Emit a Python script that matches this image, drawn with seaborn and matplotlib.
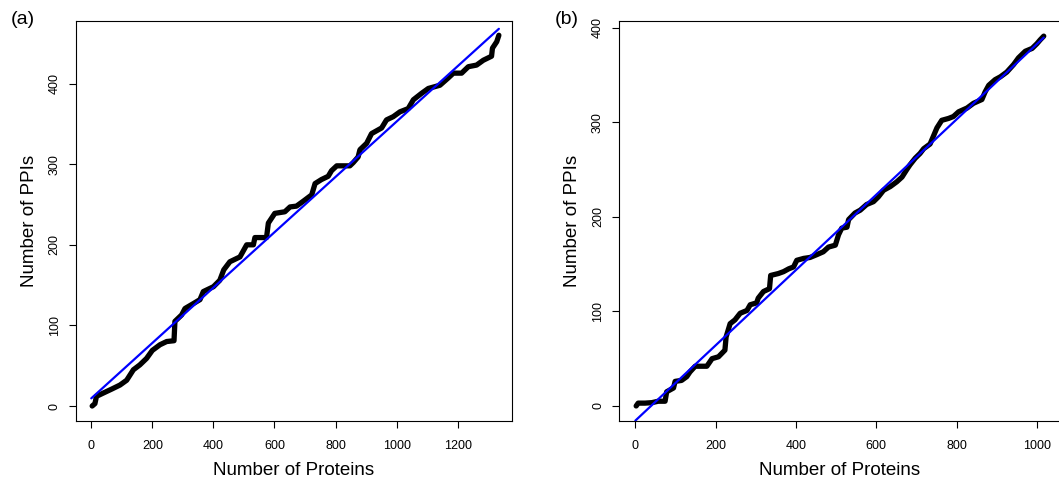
import numpy as np
import pandas as pd
import matplotlib
matplotlib.use("Agg")
import matplotlib.pyplot as plt
import seaborn as sns

# ---------------- data ----------------
# Panel (a): cumulative PPIs vs number of proteins
a_proteins = [3, 12, 17, 39, 67, 94, 116, 138, 159, 181, 200, 225, 247, 271, 274,
              296, 307, 334, 356, 367, 400, 421, 434, 454, 487, 509, 531, 536, 574,
              580, 601, 634, 651, 672, 694, 722, 733, 754, 776, 787, 804, 847, 858,
              874, 880, 902, 918, 951, 967, 989, 1011, 1038, 1055, 1082, 1104, 1142,
              1169, 1186, 1213, 1235, 1262, 1284, 1311, 1314, 1328, 1335]
a_ppis = [0, 3, 12, 16, 21, 26, 32, 45, 51, 59, 69, 76, 80, 81, 105,
          113, 121, 127, 132, 142, 148, 156, 169, 179, 185, 200, 200, 209, 209,
          227, 239, 241, 247, 248, 254, 262, 276, 281, 285, 292, 298, 298, 302,
          309, 318, 326, 338, 345, 355, 359, 365, 369, 380, 388, 394, 398,
          407, 413, 413, 421, 423, 429, 434, 444, 452, 460]
a_fit_x = [0, 1335]
a_fit_y = [9.5, 468]

# Panel (b)
b_proteins = [2, 7, 24, 41, 57, 74, 78, 95, 99, 115, 128, 136, 149, 178, 191, 207,
              223, 226, 236, 248, 261, 278, 286, 302, 306, 319, 334, 337, 356, 369,
              382, 394, 402, 419, 435, 452, 468, 481, 498, 506, 514, 527, 531, 547,
              560, 576, 593, 605, 618, 635, 651, 664, 676, 684, 697, 709, 718, 734,
              743, 751, 763, 780, 792, 805, 826, 842, 863, 871, 880, 896, 909, 925,
              942, 954, 971, 988, 1000, 1008, 1017]
b_ppis = [0, 3, 3, 3.5, 5, 5, 15, 19, 26, 27, 31, 36, 42, 42, 50, 52,
          59, 73, 87, 91, 98, 101, 107, 109, 114, 121, 124, 138, 140, 142,
          145, 147, 154, 156, 157, 160, 163, 168, 170, 181, 188, 189, 197, 204,
          207, 213, 216, 221, 228, 232, 237, 242, 250, 255, 262, 267, 272, 277,
          286, 294, 302, 304, 306, 311, 315, 320, 324, 332, 339, 345, 348, 353,
          361, 368, 375, 378, 383, 387, 391]
b_fit_x = [0, 1017]
b_fit_y = [-15.5, 389.4]

a_xticks = [0, 200, 400, 600, 800, 1000, 1200]
a_yticks = [0, 100, 200, 300, 400]
b_xticks = [0, 200, 400, 600, 800, 1000]
b_yticks = [0, 100, 200, 300, 400]
panel_labels = ["(a)", "(b)"]
xlabel = "Number of Proteins"
ylabel = "Number of PPIs"

# ---------------- style ----------------
sns.set_style("ticks")
plt.rcParams["font.family"] = ["Liberation Sans", "DejaVu Sans"]
plt.rcParams["text.color"] = "black"
plt.rcParams["axes.labelcolor"] = "black"
plt.rcParams["xtick.color"] = "black"
plt.rcParams["ytick.color"] = "black"

W, H = 1059, 480
fig = plt.figure(figsize=(W / 100, H / 100), dpi=100)

ax_a = fig.add_axes([76 / W, 1 - 421 / H, 436 / W, 400 / H])
ax_b = fig.add_axes([619.3 / W, 1 - 421 / H, 440.5 / W, 400 / H])

panels = [
    (ax_a, a_proteins, a_ppis, a_fit_x, a_fit_y, a_xticks, a_yticks, (-50, 1378), (-18.6, 477.7)),
    (ax_b, b_proteins, b_ppis, b_fit_x, b_fit_y, b_xticks, b_yticks, (-40, 1057), (-15.9, 407)),
]

for ax, px, py, fx, fy, xt, yt, xl, yl in panels:
    df = pd.DataFrame({"proteins": px, "ppis": py})
    fit = pd.DataFrame({"proteins": fx, "ppis": fy})
    sns.lineplot(data=df, x="proteins", y="ppis", ax=ax, color="black",
                 linewidth=3.8, sort=False, estimator=None,
                 solid_capstyle="round", solid_joinstyle="round")
    sns.lineplot(data=fit, x="proteins", y="ppis", ax=ax, color="#0000FF",
                 linewidth=1.6, sort=False, estimator=None)
    ax.set_xlim(*xl)
    ax.set_ylim(*yl)
    ax.set_xticks(xt)
    ax.set_yticks(yt)
    ax.set_xticklabels([str(v) for v in xt], fontsize=9)
    ax.set_yticklabels([str(v) for v in yt], fontsize=9, rotation=90, va="center")
    ax.tick_params(axis="both", direction="out", length=5, width=0.8, color="black")
    ax.tick_params(axis="x", pad=9)
    ax.tick_params(axis="y", pad=6)
    ax.set_xlabel(xlabel, fontsize=13.5, labelpad=7)
    ax.set_ylabel(ylabel, fontsize=13.5, labelpad=8)
    for s in ax.spines.values():
        s.set_visible(True)
        s.set_color("black")
        s.set_linewidth(0.8)

fig.text(11 / W, 1 - 20 / H, panel_labels[0], fontsize=14, ha="left", va="center")
fig.text(555 / W, 1 - 20 / H, panel_labels[1], fontsize=14, ha="left", va="center")

fig.savefig("out.png", dpi=100)
